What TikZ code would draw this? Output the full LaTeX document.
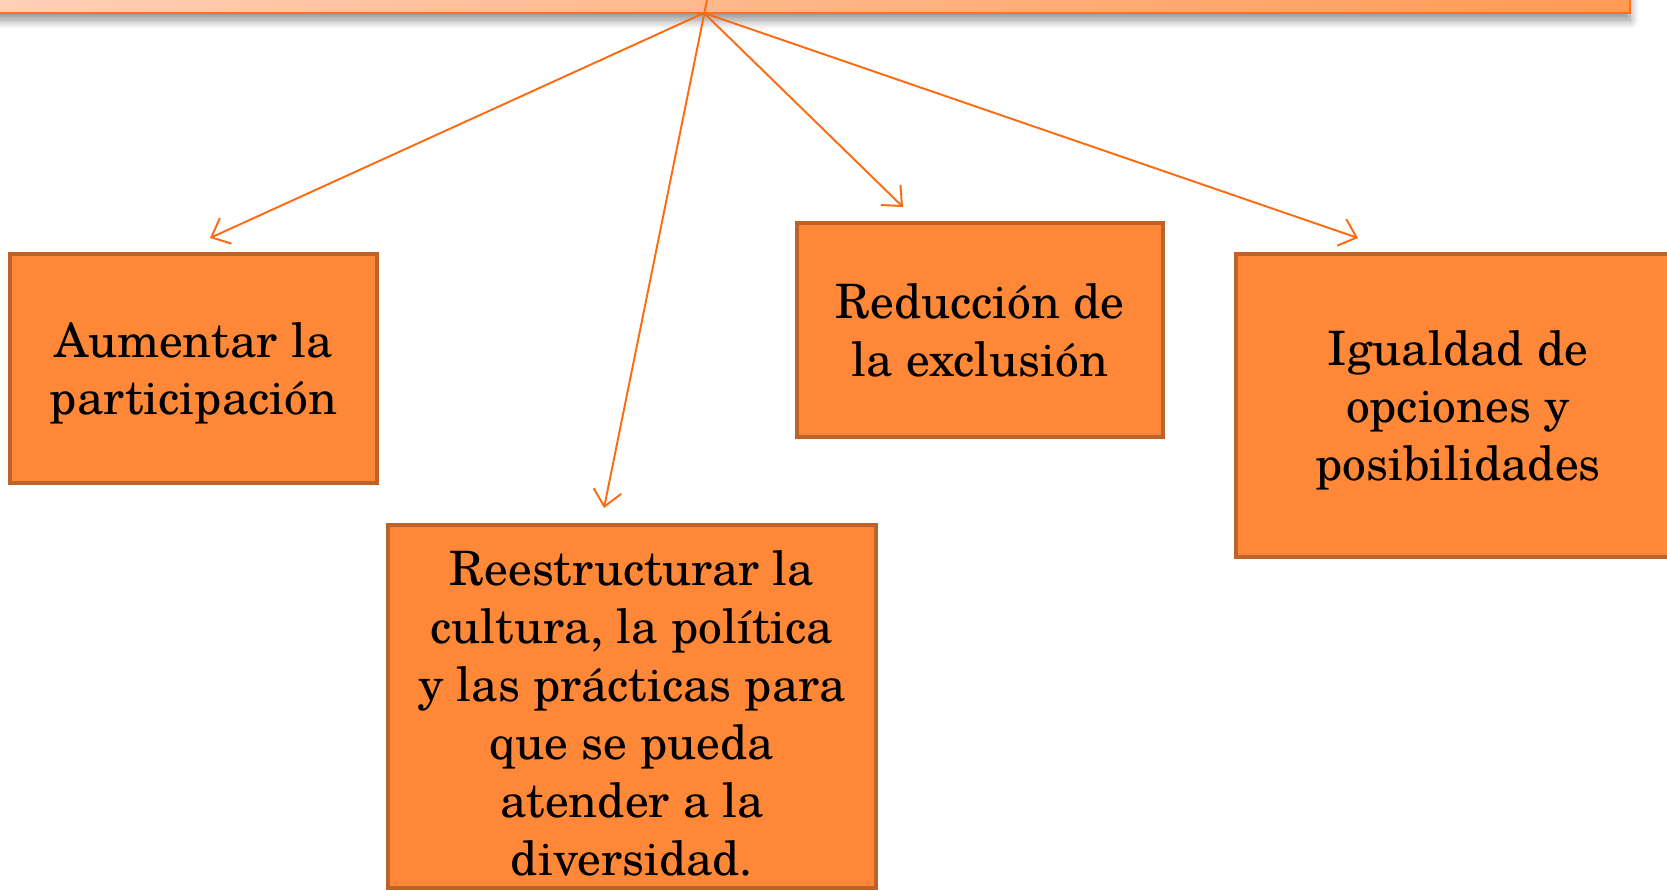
\documentclass[tikz,border=0pt]{standalone}
\usepackage{fontspec}
\setmainfont{texgyreschola}[Extension=.otf, UprightFont=*-regular, BoldFont=*-bold]
\usetikzlibrary{arrows.meta,positioning,shadows.blur}
\definecolor{boxfill}{HTML}{FF8838}
\definecolor{boxedge}{HTML}{BE622A}
\definecolor{linkorange}{HTML}{FF6A10}
\definecolor{barlight}{HTML}{FFD0B8}
\definecolor{bardark}{HTML}{FF9A55}
\definecolor{baredge}{HTML}{FF7020}

\begin{document}
\begin{tikzpicture}[
    x=0.02cm, y=-0.02cm,
    every node/.style={font=\fontsize{27}{33}\selectfont},
    goalbox/.style={rectangle, draw=boxedge, fill=boxfill, line width=2.2pt,
        align=center, inner sep=0pt, text depth=0pt, text=black},
    link/.style={linkorange, line width=1.1pt, -{Straight Barb[length=9pt, width=16pt]}},
]
\useasboundingbox (0,0) rectangle (1667,890);
\clip (0,0) rectangle (1667,890);

% Header bar (cut off at the top)
\node[rectangle, minimum width=1650*0.02cm, minimum height=60*0.02cm, inner sep=0pt,
    left color=barlight, right color=bardark, draw=baredge, line width=1.6pt,
    blur shadow={shadow xshift=0pt, shadow yshift=-4pt, shadow blur radius=5pt,
        shadow blur steps=12, shadow opacity=45}]
    (top) at (805,-17) {};
\coordinate (hub) at (704,13);
\coordinate (hubtop) at (707,0);

% Goal boxes
\node[goalbox, minimum width=367*0.02cm, minimum height=229*0.02cm]
    (aum) at (193.5,368.5) {Aumentar la\\participación};
\node[goalbox, minimum width=488*0.02cm, minimum height=363*0.02cm]
    (rees) at (632,706.5) {\rule{0pt}{27pt}Reestructurar la\\cultura, la política\\y las prácticas para\\que se pueda\\atender a la\\diversidad.};
\node[goalbox, minimum width=366*0.02cm, minimum height=214*0.02cm]
    (red) at (980,330) {Reducción de\\la exclusión};
\node[goalbox, minimum width=444*0.02cm, minimum height=303*0.02cm]
    (igu) at (1458,405.5) {Igualdad de\\opciones y\\posibilidades};

% Arrow ends, just above each box
\coordinate (aumtip) at (210,238);
\coordinate (reestip) at (604,508);
\coordinate (redtip) at (903,207);
\coordinate (igutip) at (1358,238);

% Arrows from the header
\draw[link] (hub) -- (aumtip);
\draw[link] (hubtop) -- (reestip);
\draw[link] (hub) -- (redtip);
\draw[link] (hub) -- (igutip);

\end{tikzpicture}
\end{document}
